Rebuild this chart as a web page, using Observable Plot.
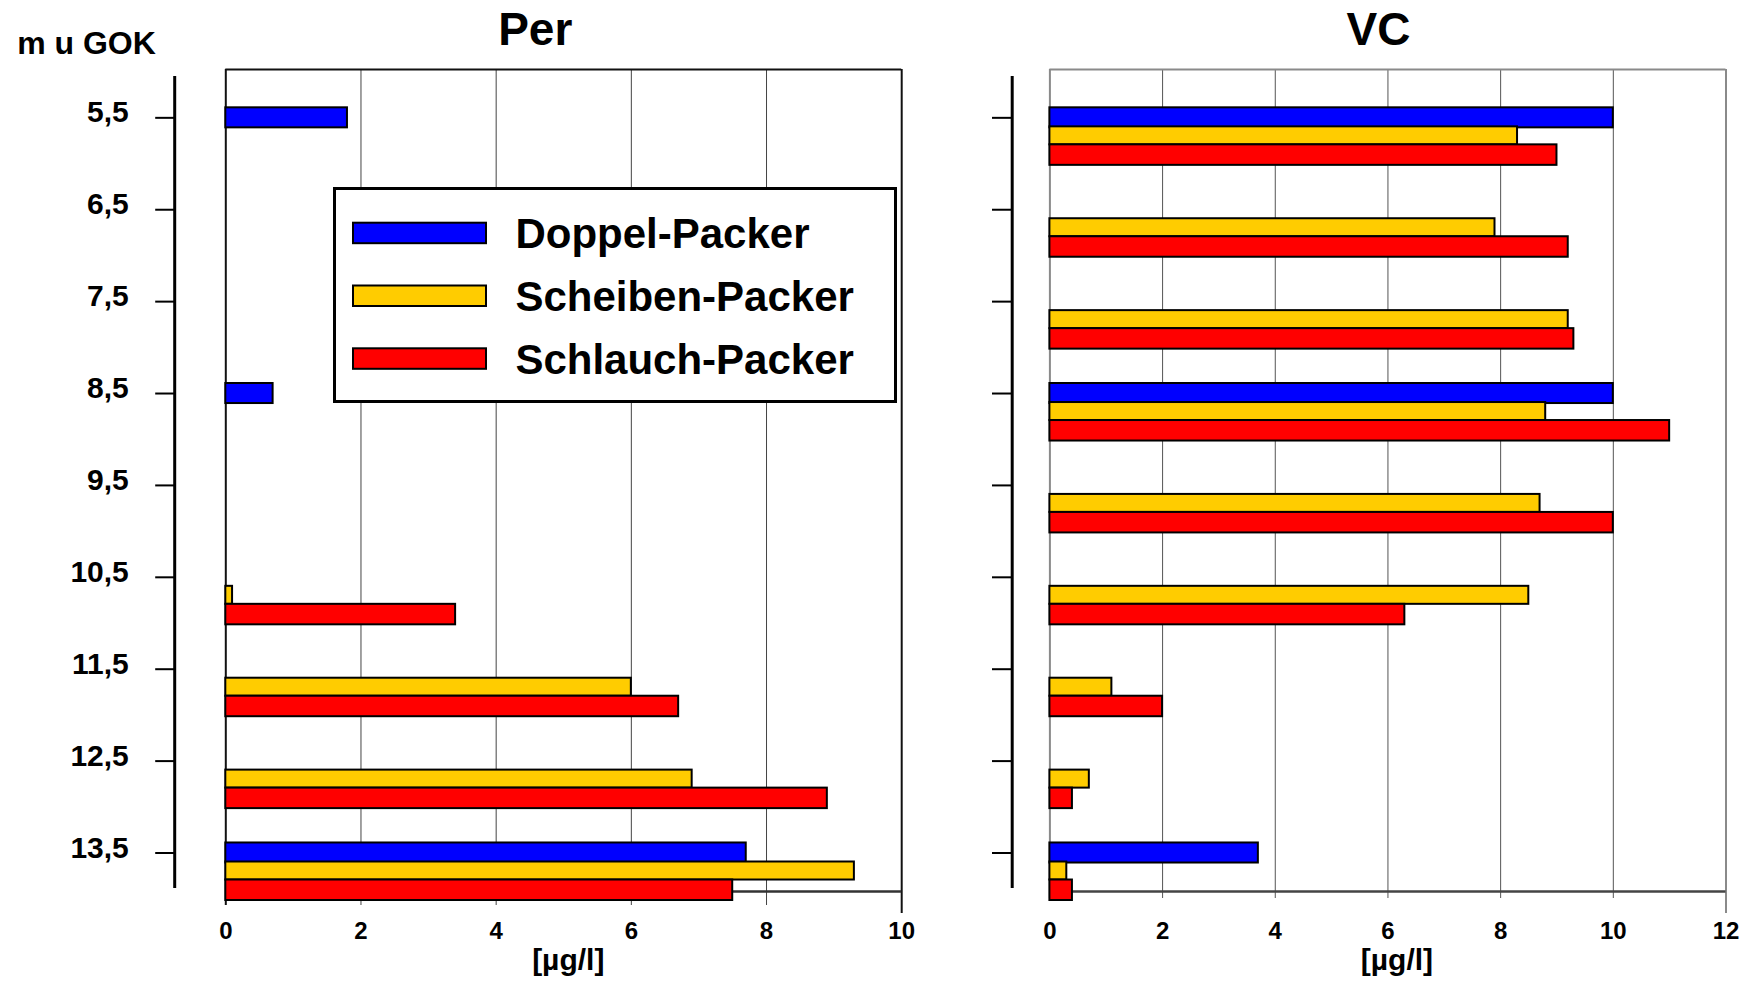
<!DOCTYPE html>
<html>
<head>
<meta charset="utf-8">
<script src="https://cdn.jsdelivr.net/npm/d3@7"></script>
<script src="https://cdn.jsdelivr.net/npm/@observablehq/plot@0.6"></script>
<style>
  html, body { margin: 0; padding: 0; background: #fff; }
  #chart { position: relative; width: 1749px; height: 981px; overflow: hidden; }
  #chart > svg { position: absolute; top: 0; }
</style>
</head>
<body>
<div id="chart"></div>
<script>
// Sampling depths (m below ground level) and their printed labels
const depths = [5.5, 6.5, 7.5, 8.5, 9.5, 10.5, 11.5, 12.5, 13.5];
const depthLabels = ["5,5", "6,5", "7,5", "8,5", "9,5", "10,5", "11,5", "12,5", "13,5"];

// Packer types and their colours
const seriesNames = ["Doppel-Packer", "Scheiben-Packer", "Schlauch-Packer"];
const seriesColors = ["#0000ff", "#ffcc00", "#ff0000"];

// Per concentrations [µg/l] per depth (null = not measured)
const perDoppel    = [1.8, null, null, 0.7, null, null, null, null, 7.7];
const perScheiben  = [null, null, null, null, null, 0.1, 6.0, 6.9, 9.3];
const perSchlauch  = [null, null, null, null, null, 3.4, 6.7, 8.9, 7.5];

// VC concentrations [µg/l] per depth
const vcDoppel     = [10.0, null, null, 10.0, null, null, null, null, 3.7];
const vcScheiben   = [8.3, 7.9, 9.2, 8.8, 8.7, 8.5, 1.1, 0.7, 0.3];
const vcSchlauch   = [9.0, 9.2, 9.3, 11.0, 10.0, 6.3, 2.0, 0.4, 0.4];

// Value axis ticks
const perTicks = [0, 2, 4, 6, 8, 10];
const vcTicks = [0, 2, 4, 6, 8, 10, 12];

const unitLabel = "[µg/l]";
const depthTitle = "m u GOK";

const FONT = '"Liberation Sans", Arial, Helvetica, sans-serif';

// Frame extent and detached axis-line extent, in metres of depth
const yDomain = [4.974, 13.919];
const axisSpan = [5.051, 13.887];
// Vertical slot of each packer bar relative to its depth tick (metres)
const barSlots = [[-0.109, 0.109], [0.098, 0.294], [0.294, 0.517]];

function longForm(series) {
  const rows = [];
  series.forEach((values, s) => values.forEach((v, i) => {
    if (v != null) rows.push({depth: depths[i], series: seriesNames[s], slot: s, value: v});
  }));
  return rows;
}

function panel(o) {
  const rows = longForm(o.series);
  const xMax = o.xTicks[o.xTicks.length - 1];
  const marks = [
    // grid lines, poking slightly below the frame
    Plot.ruleX(o.xTicks.slice(1, -1), {stroke: o.gridColor, strokeWidth: 1, insetBottom: -o.tickExt}),
    Plot.ruleX([0], {stroke: o.frameColor, strokeWidth: 2, insetBottom: -o.tickExt}),
    Plot.ruleX([xMax], {stroke: o.frameColor, strokeWidth: 2, insetBottom: -22}),
    Plot.ruleY([yDomain[0]], {stroke: o.frameColor, strokeWidth: 2}),
    Plot.ruleY([yDomain[1]], {stroke: o.baseColor, strokeWidth: 2.5}),
    // bars
    Plot.rect(rows, {
      x1: () => 0,
      x2: "value",
      y1: d => d.depth + barSlots[d.slot][0],
      y2: d => d.depth + barSlots[d.slot][1],
      fill: "series",
      stroke: "#000",
      strokeWidth: 2
    }),
    // detached depth axis
    Plot.ruleX([0], {y1: axisSpan[0], y2: axisSpan[1], dx: o.axisDx, stroke: "#000", strokeWidth: 3}),
    Plot.axisY(depths, {anchor: "left", tickSize: o.tickLen, dx: o.axisDx, strokeWidth: 2, fill: "none", label: null}),
    // value axis labels
    Plot.axisX(o.xTicks, {anchor: "bottom", tickSize: 0, tickPadding: 30, fontSize: 24, fontWeight: "bold", label: null}),
    Plot.text([unitLabel], {frameAnchor: "bottom", lineAnchor: "top", dy: 57, dx: o.unitDx, fontSize: 30, fontWeight: "bold"}),
    // panel title
    Plot.text([o.title], {frameAnchor: "top", lineAnchor: "top", dy: -57, dx: o.titleDx, fontSize: 46, fontWeight: "bold"})
  ];
  if (o.depthLabels) {
    marks.push(
      Plot.axisY(depths, {
        anchor: "left", tickSize: 0, tickPadding: o.labelPad, dx: o.axisDx, dy: -5,
        tickFormat: d => depthLabels[depths.indexOf(d)],
        fontSize: 30, fontWeight: "bold", label: null
      }),
      Plot.text([depthTitle], {
        frameAnchor: "top-left", textAnchor: "start", lineAnchor: "top",
        dx: o.gokDx, dy: -38, fontSize: 32, fontWeight: "bold"
      })
    );
  }
  const svg = Plot.plot({
    width: o.width,
    height: 981,
    marginTop: 69,
    marginBottom: 90,
    marginLeft: o.marginLeft,
    marginRight: o.marginRight,
    style: {fontFamily: FONT, fontSize: "10px", background: "transparent", color: "#000", overflow: "visible"},
    x: {domain: [0, xMax], label: null},
    y: {domain: yDomain, reverse: true, label: null},
    color: {domain: seriesNames, range: seriesColors},
    marks
  });
  svg.style.left = o.left + "px";
  return svg;
}

const chart = document.getElementById("chart");

chart.appendChild(panel({
  title: "Per",
  series: [perDoppel, perScheiben, perSchlauch],
  xTicks: perTicks,
  left: 0, width: 940, marginLeft: 225.3, marginRight: 38.8,
  frameColor: "#111", baseColor: "#333", gridColor: "#444", tickExt: 14,
  axisDx: -51.1, tickLen: 19, labelPad: 45.9, depthLabels: true, gokDx: -208.6,
  titleDx: -28.5, unitDx: 4.5
}));

chart.appendChild(panel({
  title: "VC",
  series: [vcDoppel, vcScheiben, vcSchlauch],
  xTicks: vcTicks,
  left: 940, width: 809, marginLeft: 109.4, marginRight: 23.5,
  frameColor: "#8a8a8a", baseColor: "#444", gridColor: "#555", tickExt: 7,
  axisDx: -37.7, tickLen: 19.7, depthLabels: false,
  titleDx: -9.5, unitDx: 9
}));

// Legend box inside the Per panel
const legend = d3.select(chart).append("svg")
  .attr("width", 564).attr("height", 216)
  .style("left", "333px").style("top", "187px")
  .attr("font-family", FONT);
legend.append("rect")
  .attr("x", 1.5).attr("y", 1.5).attr("width", 561).attr("height", 213)
  .attr("fill", "#fff").attr("stroke", "#000").attr("stroke-width", 3);
const rowStep = 62.8;
const item = legend.selectAll("g.item").data(seriesNames).join("g")
  .attr("class", "item")
  .attr("transform", (d, i) => `translate(0,${i * rowStep})`);
item.append("rect")
  .attr("x", 20).attr("y", 35.7).attr("width", 133).attr("height", 20.5)
  .attr("fill", (d, i) => seriesColors[i]).attr("stroke", "#000").attr("stroke-width", 2);
item.append("text")
  .attr("x", 182.4).attr("y", 61.3)
  .attr("font-size", 42).attr("font-weight", "bold").attr("fill", "#000")
  .text(d => d);
</script>
</body>
</html>
